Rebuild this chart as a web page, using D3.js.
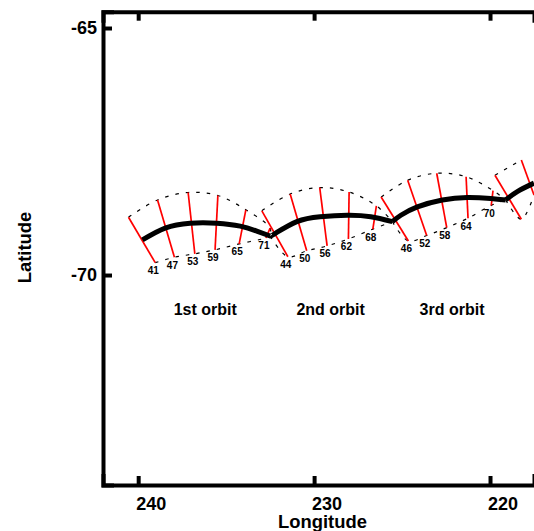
<!DOCTYPE html>
<html>
<head>
<meta charset="utf-8">
<script src="https://cdn.jsdelivr.net/npm/d3@7"></script>
<style>
html, body { margin: 0; padding: 0; background: #fff; }
svg { display: block; }
text { font-family: "Liberation Sans", Arial, sans-serif; font-weight: bold; fill: #000; }
</style>
</head>
<body>
<script>
// tick labels
var lonTicks = [240, 230, 220];
var latTicks = [-65, -70];

// centre track of each orbit
var trackLon = [
    [239.76, 238.47, 237.05, 235.53, 234.20, 233.26, 232.50],
    [232.50, 232.22, 230.98, 229.66, 228.11, 226.78, 225.55],
    [225.55, 225.07, 224.13, 222.71, 221.29, 219.96, 219.11],
    [219.11, 218.45, 217.50]
];
var trackLat = [
    [-69.29, -69.05, -68.95, -68.95, -69.01, -69.11, -69.21],
    [-69.21, -69.16, -68.92, -68.82, -68.79, -68.82, -68.92],
    [-68.92, -68.79, -68.62, -68.48, -68.43, -68.45, -68.48],
    [-68.48, -68.31, -68.14]
];

// red cross-track lines
var spokeLabels = ["41", "47", "53", "59", "65", "71", "44", "50", "56", "62", "68", "46", "52", "58", "64", "70", "", ""];
var spokeOrbit = [0, 0, 0, 0, 0, 0, 1, 1, 1, 1, 1, 2, 2, 2, 2, 2, 3, 3];
var spokeTopLon = [240.55, 238.90, 237.16, 235.47, 233.88, 232.50, 232.97, 231.36, 229.68, 228.01, 226.46, 226.19, 224.68, 223.03, 221.36, 219.83, 219.72, 218.22];
var spokeTopLat = [-68.83, -68.48, -68.33, -68.39, -68.68, -69.05, -68.70, -68.36, -68.23, -68.32, -68.60, -68.42, -68.08, -67.94, -68.01, -68.29, -67.98, -67.67];
var spokeBotLon = [239.03, 237.94, 236.78, 235.63, 234.26, 232.74, 231.49, 230.42, 229.26, 228.05, 226.66, 224.64, 223.60, 222.46, 221.25, 219.93, 218.22, 217.50];
var spokeBotLat = [-69.75, -69.64, -69.57, -69.49, -69.37, -69.25, -69.63, -69.51, -69.41, -69.27, -69.07, -69.31, -69.20, -69.04, -68.85, -68.59, -68.87, -68.38];

var orbitNames = ["1st orbit", "2nd orbit", "3rd orbit"];
var orbitNameLon = [236.19, 229.06, 222.16];
var orbitNameLat = -70.81;

var width = 534, height = 531;
var x = d3.scaleLinear().domain([242, 217.5]).range([103, 534]);
var y = d3.scaleLinear().domain([-64.67, -74.25]).range([11.7, 485]);

var svg = d3.select("body").append("svg")
    .attr("width", width)
    .attr("height", height);

var smooth = d3.line()
    .x(function(d){ return x(d[0]); })
    .y(function(d){ return y(d[1]); })
    .curve(d3.curveCatmullRom);
var track = d3.line()
    .x(function(d){ return x(d[0]); })
    .y(function(d){ return y(d[1]); })
    .curve(d3.curveNatural);

function spokes(orbit, lon, lat){
    var out = [];
    for (var i = 0; i < spokeOrbit.length; i++){
	if (spokeOrbit[i] == orbit){
	    out.push([lon[i], lat[i]]);
	}
    }
    return out;
}

// dashed swath edges, each one closes on the track junction
trackLon.forEach(function(lons, o){
    var first = [lons[0], trackLat[o][0]];
    var last = [lons[lons.length - 1], trackLat[o][lons.length - 1]];
    var top = spokes(o, spokeTopLon, spokeTopLat);
    var bot = spokes(o, spokeBotLon, spokeBotLat);
    if (o < 3){
	top.push(last);
	bot.push(last);
    }
    if (o > 0){
	bot.unshift(first);
    }
    [top, bot].forEach(function(edge){
	svg.append("path")
	    .attr("d", smooth(edge))
	    .attr("fill", "none")
	    .attr("stroke", "#000")
	    .attr("stroke-width", 1.2)
	    .attr("stroke-dasharray", "3.5,7");
    });
});

// red lines
spokeLabels.forEach(function(label, i){
    svg.append("line")
	.attr("x1", x(spokeTopLon[i]))
	.attr("y1", y(spokeTopLat[i]))
	.attr("x2", x(spokeBotLon[i]))
	.attr("y2", y(spokeBotLat[i]))
	.attr("stroke", "#f00")
	.attr("stroke-width", 1.7);
    svg.append("text")
	.attr("x", x(spokeBotLon[i]) - 2)
	.attr("y", y(spokeBotLat[i]) + 11.5)
	.attr("text-anchor", "middle")
	.style("font-size", "10px")
	.text(label);
});

// thick track
trackLon.forEach(function(lons, o){
    var pts = lons.map(function(lon, i){ return [lon, trackLat[o][i]]; });
    svg.append("path")
	.attr("d", track(pts))
	.attr("fill", "none")
	.attr("stroke", "#000")
	.attr("stroke-width", 5)
	.attr("stroke-linejoin", "round");
});

orbitNames.forEach(function(name, i){
    svg.append("text")
	.attr("x", x(orbitNameLon[i]))
	.attr("y", y(orbitNameLat))
	.attr("text-anchor", "middle")
	.style("font-size", "16px")
	.text(name);
});

// axes
var axes = [
    {gen: d3.axisBottom(x).tickValues(lonTicks).tickSize(-9).tickPadding(12).tickFormat(d3.format("d")), at: [0, y.range()[1]], labels: true},
    {gen: d3.axisTop(x).tickValues(lonTicks).tickSize(-9), at: [0, y.range()[0]], labels: false},
    {gen: d3.axisLeft(y).tickValues(latTicks).tickSize(-9).tickPadding(6).tickFormat(function(d){ return String(d); }), at: [x.range()[0], 0], labels: true}
];
axes.forEach(function(a, n){
    var g = svg.append("g")
	.attr("transform", "translate(" + a.at[0] + "," + a.at[1] + ")")
	.call(a.gen);
    g.select(".domain")
	.attr("stroke", "#000")
	.attr("stroke-width", 4)
	.attr("stroke-linecap", "square");
    g.selectAll(".tick line")
	.attr("stroke", "#000")
	.attr("stroke-width", 4);
    g.selectAll(".tick text")
	.style("font-family", '"Liberation Sans", Arial, sans-serif')
	.style("font-weight", "bold")
	.style("font-size", "18px")
	.attr("fill", "#000");
    if (!a.labels){
	g.selectAll(".tick text").remove();
    }
    // longitude labels sit to the right of their ticks
    if (n == 0){
	g.selectAll(".tick text").attr("dx", 12.5);
    }
});

svg.append("text")
    .attr("x", 322.5)
    .attr("y", 528)
    .attr("text-anchor", "middle")
    .style("font-size", "18.4px")
    .text("Longitude");

svg.append("text")
    .attr("transform", "translate(31,247.5) rotate(-90)")
    .attr("text-anchor", "middle")
    .style("font-size", "18.4px")
    .text("Latitude");
</script>
</body>
</html>
